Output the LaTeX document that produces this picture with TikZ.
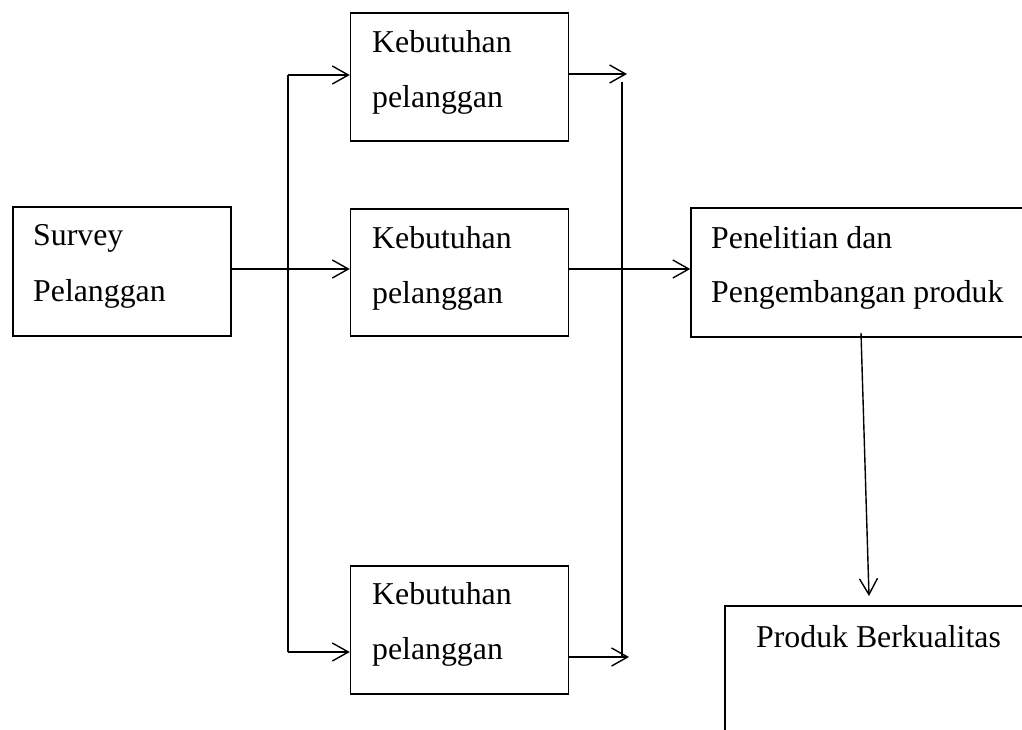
\documentclass[tikz,border=0pt]{standalone}
\usepackage{fontspec}
\setmainfont{Liberation Serif}
\usetikzlibrary{arrows.meta}
\begin{document}
\begin{tikzpicture}[x=1pt,y=-1pt,
  box/.style={draw=black, line width=1.5pt, inner sep=0pt, rectangle},
  txt/.style={inner sep=0pt, anchor=base west, font=\fontsize{31.8}{40}\selectfont},
  ln/.style={draw=black, line width=1.4pt},
  arr/.style={ln, -{Straight Barb[length=16pt,width=18pt,line width=1.4pt]}}]
\useasboundingbox (0,0) rectangle (1022,729);
\clip (0,0) rectangle (1022,729);
% boxes
\node[box, minimum width=218pt, minimum height=129pt] (s) at (122,271.5) {};
\node[box, minimum width=218pt, minimum height=128pt] (k1) at (459.5,77) {};
\node[box, minimum width=218pt, minimum height=127pt] (k2) at (459.5,272.5) {};
\node[box, minimum width=218pt, minimum height=128pt] (k3) at (459.5,630) {};
\node[box, minimum width=360pt, minimum height=129pt] (p) at (871,272.5) {};
\node[box, minimum width=340pt, minimum height=160pt] (q) at (895,686) {};
% texts
\node[txt] (st1) at (33,245) {Survey};
\node[txt] (st2) at (33,301) {Pelanggan};
\node[txt] (k1t1) at (372,52) {Kebutuhan};
\node[txt] (k1t2) at (372,107) {pelanggan};
\node[txt] (k2t1) at (372,248) {Kebutuhan};
\node[txt] (k2t2) at (372,303) {pelanggan};
\node[txt] (k3t1) at (372,604) {Kebutuhan};
\node[txt] (k3t2) at (372,659) {pelanggan};
\node[txt] (pt1) at (711,248) {Penelitian dan};
\node[txt] (pt2) at (711,302) {Pengembangan produk};
\node[txt] (qt) at (756,647) {Produk Berkualitas};
% coordinates
\coordinate (lt) at (288,75);
\coordinate (lb) at (288,652);
\coordinate (mid) at (0,269);
\coordinate (rt) at (622,82);
\coordinate (rb) at (622,656);
\coordinate (ro1) at (627,74);
\coordinate (ro3) at (629,657);
\coordinate (pd) at (861,333);
\coordinate (qa) at (869,596);
% connectors
\draw[arr] (s.east |- mid) -- (k2.west |- mid);
\draw[ln] (lb) -- (lt);
\draw[arr] (lt) -- (k1.west |- lt);
\draw[arr] (lb) -- (k3.west |- lb);
\draw[arr] (k1.east |- ro1) -- (ro1);
\draw[ln] (rt) -- (rb);
\draw[arr] (k3.east |- ro3) -- (ro3);
\draw[arr] (k2.east |- mid) -- (p.west |- mid);
\draw[arr] (pd) -- (qa);
\end{tikzpicture}
\end{document}
